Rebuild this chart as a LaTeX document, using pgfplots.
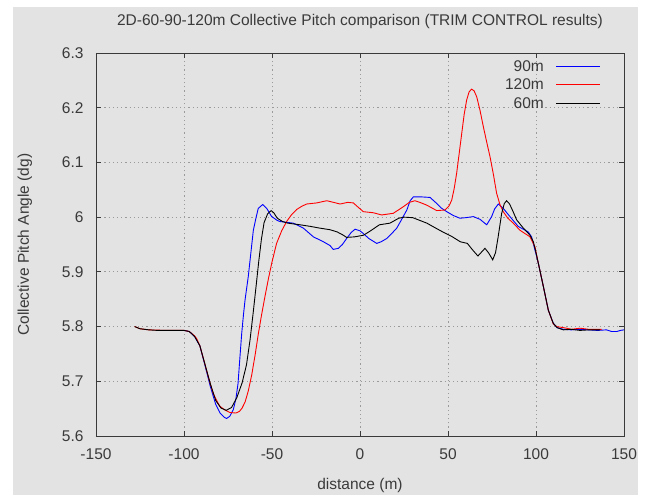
\documentclass[border=0pt]{standalone}
\usepackage{pgfplots}
\pgfplotsset{compat=1.18}
\usepackage{fontspec}
\setmainfont{Liberation Sans}
\definecolor{bggrey}{HTML}{E3E3E3}
\definecolor{txt}{HTML}{3A3A3A}
\definecolor{gridc}{HTML}{9A9A9A}
\begin{document}
\begin{tikzpicture}
\useasboundingbox (0,0) rectangle (650pt,495pt);
\fill[white] (0,0) rectangle (650pt,495pt);
\fill[bggrey] (13pt,0pt) rectangle (638pt,488pt);
\begin{axis}[
  at={(96pt,59pt)}, anchor=south west,
  scale only axis, width=528pt, height=383pt,
  xmin=-150, xmax=150, ymin=5.6, ymax=6.3,
  xtick={-150,-100,...,150},
  ytick={5.6,5.7,...,6.3},
  yticklabel style={/pgf/number format/fixed, /pgf/number format/precision=1},
  /pgf/number format/assume math mode=true,
  font=\fontsize{15.5}{18}\selectfont,
  tick label style={text=txt},
  label style={text=txt},
  axis line style={draw=txt, line width=0.9pt},
  tick style={draw=txt, line width=0.8pt},
  major tick length=5pt,
  tick align=inside,
  grid=major,
  major grid style={gridc, line width=0.9pt, dash pattern=on 1.2pt off 3pt},
  axis background/.style={fill=none},
  yticklabel style={xshift=-9pt},
  xticklabel style={yshift=-9pt},
  title={2D-60-90-120m Collective Pitch comparison (TRIM CONTROL results)},
  title style={at={(axis description cs:0.5,1.066)}, anchor=center, text=txt},
  xlabel={distance (m)},
  xlabel style={at={(axis description cs:0.5,-0.13)}, anchor=center},
  ylabel={Collective Pitch Angle (dg)},
  ylabel style={at={(axis description cs:-0.1345,0.5)}, anchor=center, rotate=0},
  legend style={draw=none, fill=none, at={(0.962,0.992)}, anchor=north east,
    font=\fontsize{15.5}{18}\selectfont, text=txt, row sep=2.2pt,
    /tikz/every odd column/.append style={column sep=10pt}},
  legend plot pos=right,
  legend cell align=right,
  legend image code/.code={\draw[#1] (0pt,0pt) -- (44pt,0pt);},
  every axis plot/.append style={line width=0.9pt},
]
\addplot[color=blue, no marks] coordinates {
(-100,5.793) (-97,5.791) (-94,5.782) (-91,5.765) (-88,5.728) (-85,5.690) (-82,5.658) (-79.5,5.642) (-77,5.634) (-75.8,5.632) (-74,5.636) (-72,5.648) (-70.5,5.668) (-69.3,5.696) (-68.2,5.745) (-67.2,5.788) (-66.2,5.822) (-65.3,5.849) (-63.5,5.891) (-62,5.935) (-60.6,5.976) (-59,6.000) (-57.8,6.016) (-55.3,6.023) (-53,6.016) (-50.2,6.001) (-47,5.994) (-45.5,5.992) (-37.9,5.989) (-32.2,5.980) (-26.5,5.964) (-20.8,5.955) (-17,5.948) (-15.2,5.941) (-12.3,5.943) (-10,5.950) (-7.6,5.961) (-5,5.972) (-2.8,5.978) (0,5.975) (1.9,5.970) (5,5.961) (9.5,5.952) (12,5.955) (15.2,5.961) (18,5.970) (20.9,5.980) (23,5.992) (26.6,6.013) (28.5,6.030) (30.3,6.037) (35,6.037) (39.8,6.036) (43.6,6.025) (46,6.017) (49.3,6.010) (53,6.003) (56.8,5.998) (60,5.999) (64.4,6.001) (68.2,5.996) (72,5.986) (74.8,6.001) (76.5,6.015) (78.6,6.024) (81.4,6.016) (85.2,6.001) (89.9,5.983) (95.6,5.973) (97.5,5.964) (99,5.945) (101.3,5.916) (104.2,5.873) (107,5.830) (109.8,5.806) (112,5.798) (115.5,5.795) (120,5.794) (125,5.795) (130,5.794) (135,5.793) (140,5.794) (143,5.791) (146,5.791) (148,5.793) (150,5.794)
};
\addlegendentry{90m}
\addplot[color=red, no marks] coordinates {
(-128,5.800) (-125,5.796) (-120,5.794) (-110,5.793) (-100,5.793) (-97,5.791) (-94,5.783) (-92.8,5.778) (-91,5.765) (-88,5.730) (-85.5,5.700) (-83.4,5.678) (-81,5.662) (-79.5,5.654) (-76.5,5.647) (-73.9,5.643) (-70.5,5.642) (-68.5,5.645) (-67,5.651) (-65.3,5.662) (-63.5,5.682) (-61.5,5.712) (-59.5,5.750) (-57.8,5.786) (-56,5.820) (-54,5.855) (-52,5.888) (-50,5.918) (-47.4,5.952) (-44.5,5.975) (-41.7,5.992) (-39,6.004) (-36,6.014) (-33,6.020) (-30.3,6.024) (-24.6,6.026) (-18.9,6.030) (-15,6.027) (-11.3,6.024) (-7,6.027) (-3.8,6.026) (-1,6.018) (1.9,6.010) (7.6,6.008) (12.3,6.004) (18.9,6.007) (24.6,6.019) (28,6.027) (31.2,6.030) (34,6.027) (37.9,6.022) (43.6,6.012) (48.3,6.013) (50.5,6.020) (52.1,6.031) (53.5,6.052) (54.9,6.080) (56.3,6.115) (57.8,6.153) (59.2,6.188) (60.6,6.214) (62,6.229) (63.4,6.234) (64.8,6.231) (66.3,6.220) (68.2,6.195) (70.1,6.165) (72,6.137) (73.9,6.110) (75.8,6.078) (77.6,6.044) (79.5,6.023) (81.4,6.010) (84,5.998) (87.1,5.989) (90.9,5.976) (96.6,5.964) (99.4,5.946) (101.3,5.916) (104.2,5.873) (107,5.830) (109.8,5.805) (111.7,5.800) (117.4,5.797) (120,5.795) (125,5.797) (130,5.795) (137.3,5.795)
};
\addlegendentry{120m}
\addplot[color=black, no marks] coordinates {
(-128,5.800) (-125,5.796) (-120,5.794) (-115,5.793) (-110,5.793) (-105,5.793) (-100,5.793) (-97,5.791) (-94,5.782) (-91,5.765) (-88,5.730) (-85,5.695) (-82,5.665) (-79,5.651) (-76,5.647) (-73,5.652) (-70,5.670) (-67,5.697) (-64.5,5.730) (-62.5,5.775) (-60.7,5.825) (-59,5.875) (-57.5,5.920) (-56,5.960) (-54.5,5.990) (-52.5,6.006) (-50.5,6.012) (-49,6.008) (-47,5.998) (-44,5.992) (-41,5.989) (-34,5.986) (-28,5.983) (-23,5.980) (-17,5.977) (-13,5.973) (-10,5.968) (-7.6,5.963) (-3,5.964) (2,5.967) (6,5.975) (11,5.986) (17,5.989) (22,5.998) (25,6.000) (30,5.999) (34,5.994) (38,5.989) (43,5.980) (47,5.973) (52,5.965) (57,5.955) (61,5.952) (64,5.940) (67,5.929) (69,5.936) (71,5.943) (73,5.935) (75.4,5.922) (77,5.935) (78.5,5.964) (80.5,6.007) (82,6.025) (83.3,6.030) (85,6.024) (87,6.010) (89,5.995) (92.8,5.980) (96.6,5.967) (98.5,5.955) (100,5.935) (101.3,5.916) (104.2,5.873) (107,5.830) (109.8,5.806) (112,5.798) (115.5,5.794) (120,5.795) (125,5.793) (130,5.794) (136.5,5.794)
};
\addlegendentry{60m}
\end{axis}
\end{tikzpicture}
\end{document}
